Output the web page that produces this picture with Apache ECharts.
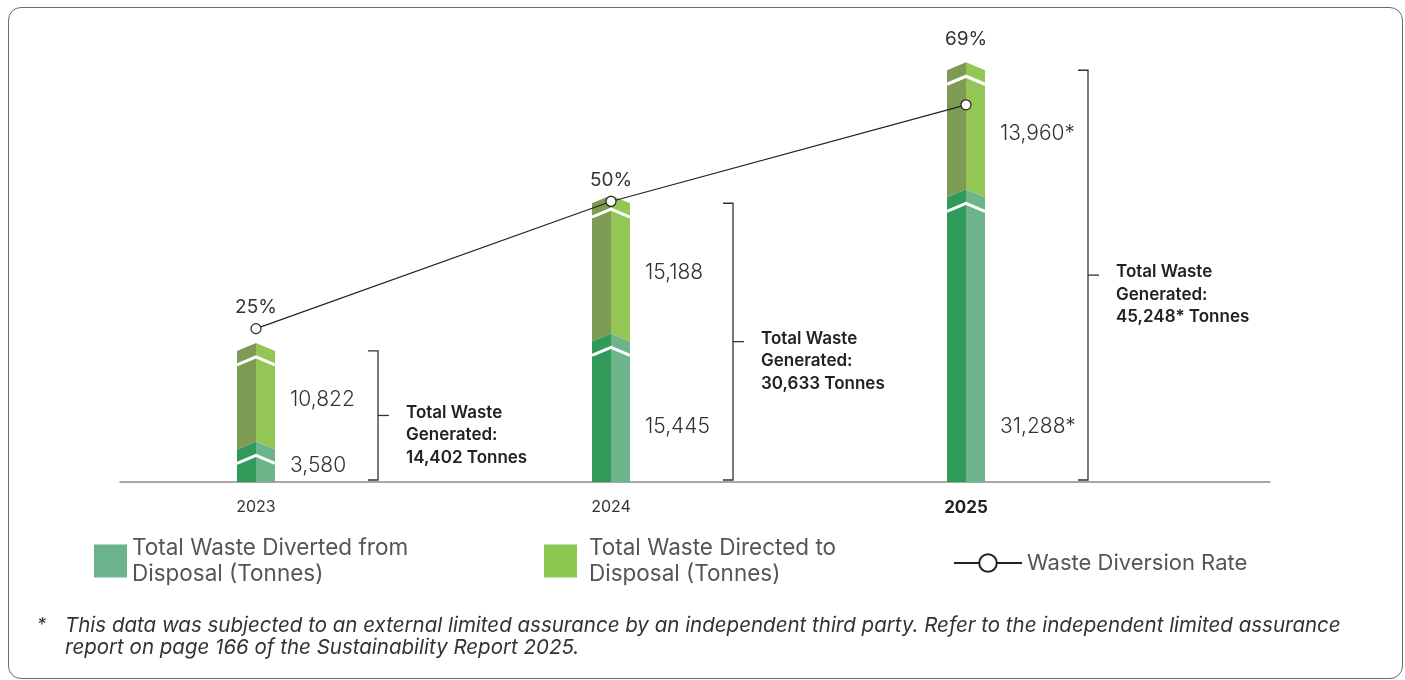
<!DOCTYPE html>
<html>
<head>
<meta charset="utf-8">
<title>Waste</title>
<script src="https://cdn.jsdelivr.net/npm/echarts@6/dist/echarts.min.js"></script>
<style>
  html, body { margin: 0; padding: 0; background: #fff; }
  #main { position: absolute; left: 0; top: 0; width: 1405px; height: 680px; }
  #frame {
    position: absolute; left: 8px; top: 7px; width: 1393px; height: 670px;
    border: 1.5px solid #6a6a6a; border-radius: 13px; pointer-events: none;
  }
</style>
</head>
<body>
<div id="main"></div>
<div id="frame"></div>
<script>
  // data
  var years = ['2023', '2024', '2025'];
  var diverted = [3580, 15445, 31288];
  var directed = [10822, 15188, 13960];
  var totals = [14402, 30633, 45248];
  var rate = [25, 50, 69];
  var divertedLabels = ['3,580', '15,445', '31,288*'];
  var directedLabels = ['10,822', '15,188', '13,960*'];
  var totalLabels = ['14,402', '30,633', '45,248*'];

  var FONT = 'Inter, "Noto Sans", sans-serif';
  var NAME_DIV = 'Total Waste Diverted from Disposal (Tonnes)';
  var NAME_DIR = 'Total Waste Directed to Disposal (Tonnes)';
  var NAME_RATE = 'Waste Diversion Rate';

  var HALF = 19;   // half bar width
  var PEAK = 8;    // chevron rise

  // one stacked segment drawn as a two tone column with chevron top
  function segment(api, i, from, to, cLeft, cRight, text, isBottom) {
    var x = api.coord([i, 0])[0];
    var y0 = api.coord([i, from])[1];
    var y1 = api.coord([i, to])[1];
    var bp = from === 0 ? y0 : y0 - PEAK;
    var kids = [
      { type: 'polygon', shape: { points: [[x - HALF, y0], [x, bp], [x, y1 - PEAK], [x - HALF, y1]] }, style: { fill: cLeft } },
      { type: 'polygon', shape: { points: [[x, bp], [x + HALF, y0], [x + HALF, y1], [x, y1 - PEAK]] }, style: { fill: cRight } }
    ];
    if (y0 - y1 > 18) {
      kids.push({ type: 'polyline', shape: { points: [[x - HALF, y1 + 14], [x, y1 + 6], [x + HALF, y1 + 14]] },
        style: { stroke: '#fff', lineWidth: 3, fill: null } });
    }
    var mid = (y0 + y1) / 2;
    var ly = isBottom ? Math.max(mid, y0 - 55) : mid;
    kids.push({ type: 'text', x: x + HALF + 15, y: ly,
      style: { text: text, fill: '#333', font: '300 21px ' + FONT, textVerticalAlign: 'middle', textAlign: 'left' } });
    return { type: 'group', children: kids };
  }

  var divData = years.map(function (y, i) { return [i, 0, diverted[i]]; });
  var dirData = years.map(function (y, i) { return [i, diverted[i], diverted[i] + directed[i]]; });
  var totData = years.map(function (y, i) { return [i, totals[i]]; });

  var rateData = rate.map(function (v, i) {
    return i === 2 ? { value: v, label: { offset: [0, -44] } } : v;
  });

  var chart = echarts.init(document.getElementById('main'));
  chart.setOption({
    animation: false,
    textStyle: { fontFamily: FONT },
    title: [
      { text: '*', left: 32, top: 612, textStyle: { fontSize: 18, fontWeight: 'normal', color: '#333', fontStyle: 'italic' } },
      { text: 'This data was subjected to an external limited assurance by an independent third party. Refer to the independent limited assurance\nreport on page 166 of the Sustainability Report 2025.',
        left: 60, top: 610,
        textStyle: { fontSize: 20.5, fontWeight: 'normal', color: '#333', fontStyle: 'italic', lineHeight: 22 } }
    ],
    legend: [
      { data: [NAME_DIV], left: 89, top: 530, icon: 'rect', itemWidth: 33, itemHeight: 33,
        formatter: function () { return 'Total Waste Diverted from\nDisposal (Tonnes)'; },
        textStyle: { fontSize: 22.5, color: '#555', lineHeight: 26, padding: [0, 0, 0, 0] } },
      { data: [NAME_DIR], left: 539, top: 530, icon: 'rect', itemWidth: 33, itemHeight: 33,
        formatter: function () { return 'Total Waste Directed to\nDisposal (Tonnes)'; },
        textStyle: { fontSize: 22.5, color: '#555', lineHeight: 26, padding: [0, 0, 0, 7] } },
      { data: [NAME_RATE], left: 948, top: 547, itemWidth: 68, itemHeight: 22,
        textStyle: { fontSize: 22, color: '#555', padding: [0, 0, 0, 0] } }
    ],
    grid: [
      { left: 78.5, right: 261.5, top: 27, bottom: 198 },
      { left: 120, right: 135, top: 27, bottom: 198 }
    ],
    xAxis: [
      { type: 'category', data: years, gridIndex: 0,
        axisLine: { show: false }, axisTick: { show: false },
        axisLabel: { margin: 17, fontSize: 16, color: '#333',
          formatter: function (v) { return v === '2025' ? '{b|' + v + '}' : v; },
          rich: { b: { fontSize: 17, fontWeight: 'bold', color: '#222' } } } },
      { type: 'value', gridIndex: 1, min: 0, max: 1,
        axisLine: { show: true, onZero: false, lineStyle: { color: '#8a8a8a', width: 1.5 } },
        axisTick: { show: false }, axisLabel: { show: false }, splitLine: { show: false } }
    ],
    yAxis: [
      { type: 'value', gridIndex: 0, min: 0, max: 50000, show: false },
      { type: 'value', gridIndex: 0, min: -5.15, max: 84.3, show: false },
      { type: 'value', gridIndex: 1, min: 0, max: 1, show: false }
    ],
    series: [
      {
        name: NAME_DIV, type: 'custom', xAxisIndex: 0, yAxisIndex: 0,
        itemStyle: { color: '#6bb38b' },
        encode: { x: 0, y: [1, 2] },
        data: divData,
        renderItem: function (params, api) {
          var i = params.dataIndex;
          return segment(api, i, api.value(1), api.value(2), '#2f9a5a', '#6cb58a', divertedLabels[i], true);
        }
      },
      {
        name: NAME_DIR, type: 'custom', xAxisIndex: 0, yAxisIndex: 0,
        itemStyle: { color: '#8cc751' },
        encode: { x: 0, y: [1, 2] },
        data: dirData,
        renderItem: function (params, api) {
          var i = params.dataIndex;
          return segment(api, i, api.value(1), api.value(2), '#7d9b52', '#93c656', directedLabels[i], false);
        }
      },
      {
        name: 'brackets', type: 'custom', xAxisIndex: 0, yAxisIndex: 0,
        encode: { x: 0, y: 1 },
        data: totData,
        renderItem: function (params, api) {
          var i = params.dataIndex;
          var x = api.coord([i, 0])[0] + 122;
          var yb = api.coord([i, 0])[1] - 2;
          var yt = api.coord([i, api.value(1)])[1];
          var ym = (yt + yb) / 2;
          var st = { stroke: '#333', lineWidth: 1.3, fill: null };
          return { type: 'group', children: [
            { type: 'polyline', shape: { points: [[x - 10, yt], [x, yt], [x, yb], [x - 10, yb]] }, style: st },
            { type: 'line', shape: { x1: x, y1: ym, x2: x + 11, y2: ym }, style: st },
            { type: 'text', x: x + 28, y: ym - 14,
              style: { text: 'Total Waste\nGenerated:\n' + totalLabels[i] + ' Tonnes', fill: '#222',
                font: '600 17px ' + FONT, lineHeight: 22.5, textAlign: 'left', textVerticalAlign: 'top' } }
          ] };
        }
      },
      {
        name: NAME_RATE, type: 'line', xAxisIndex: 0, yAxisIndex: 1,
        data: rateData,
        symbol: 'circle', symbolSize: 10,
        lineStyle: { color: '#222', width: 1.2 },
        itemStyle: { color: '#fff', borderColor: '#222', borderWidth: 1.2 },
        label: { show: true, position: 'top', distance: 6, fontSize: 19, color: '#333',
          formatter: function (p) { return p.value + '%'; } },
        z: 5
      }
    ]
  });
</script>
</body>
</html>
